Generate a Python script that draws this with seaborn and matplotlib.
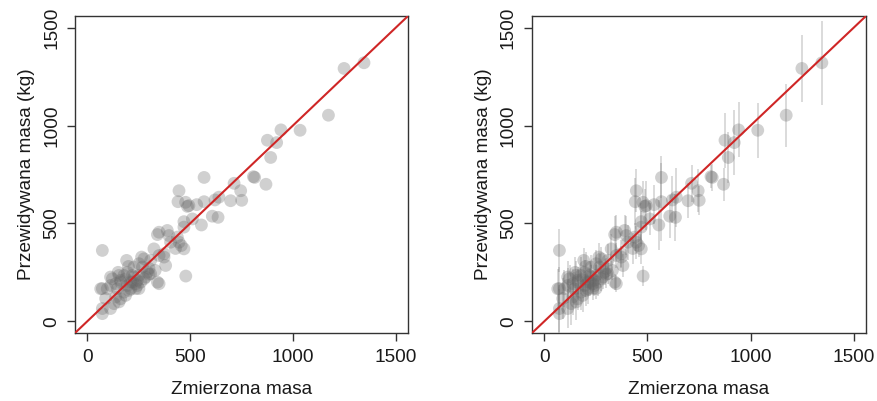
import matplotlib
matplotlib.use("Agg")
import matplotlib.pyplot as plt
import pandas as pd
import seaborn as sns

# Measured vs. predicted body mass (kg) for each animal
measured = [
    1249, 1346, 1173, 1035, 942, 876, 921, 892, 808, 814,
    869, 568, 714, 746, 697, 751, 621, 640, 608, 636,
    555, 568, 532, 487, 446, 441, 478, 470, 511, 494,
    349, 389, 397, 438, 446, 470, 405, 429, 373, 349,
    324, 308, 276, 251, 373, 381, 479, 341, 349, 264,
    191, 73, 341, 470, 457, 300, 330, 284, 308, 268,
    73, 113, 154, 162, 227, 211, 235, 89, 138, 186,
    154, 73, 73, 113, 235, 251, 203, 186, 219, 243,
    178, 146, 97, 65, 122, 138, 162, 195, 219, 251,
    276, 292, 243, 211, 178, 130, 162, 114, 260, 227,
    195, 300, 200, 150,
]
predicted = [
    1292, 1321, 1053, 976, 978, 925, 913, 837, 739, 735,
    700, 735, 705, 667, 616, 618, 620, 634, 537, 531,
    492, 611, 596, 587, 667, 611, 608, 509, 523, 591,
    455, 464, 438, 430, 404, 370, 404, 372, 345, 336,
    370, 311, 319, 294, 328, 285, 231, 200, 192, 328,
    311, 362, 443, 481, 387, 270, 260, 226, 243, 277,
    167, 226, 234, 209, 277, 201, 192, 116, 124, 132,
    99, 65, 39, 65, 167, 167, 158, 217, 234, 183,
    149, 166, 166, 166, 217, 192, 200, 183, 200, 234,
    217, 251, 209, 166, 234, 90, 115, 183, 200, 226,
    250, 240, 280, 250,
]
# Half-width of the prediction interval for each animal
half_width = [
    170, 215, 160, 140, 140, 140, 166, 130, 60, 70,
    85, 107, 95, 110, 90, 75, 120, 150, 110, 120,
    130, 200, 100, 90, 110, 120, 110, 95, 80, 125,
    90, 80, 100, 70, 85, 75, 90, 80, 70, 65,
    75, 85, 60, 70, 55, 60, 50, 40, 45, 70,
    65, 110, 95, 85, 60, 55, 50, 60, 55, 65,
    110, 80, 75, 70, 60, 70, 55, 105, 90, 85,
    95, 120, 125, 100, 60, 55, 80, 70, 75, 55,
    90, 85, 95, 100, 70, 75, 65, 60, 70, 55,
    60, 65, 50, 80, 95, 110, 60, 90, 70, 60,
    65, 70, 75, 80,
]
tick_values = [0, 500, 1000, 1500]
tick_labels = ["0", "500", "1000", "1500"]
x_label = "Zmierzona masa"
y_label = "Przewidywana masa (kg)"

df = pd.DataFrame({"measured": measured, "predicted": predicted, "half": half_width})
df["low"] = df["predicted"] - df["half"]
df["high"] = df["predicted"] + df["half"]

sns.set_theme(style="white")
plt.rcParams["font.family"] = ["Liberation Sans", "DejaVu Sans"]

W, H = 877, 401
fig = plt.figure(figsize=(W / 100, H / 100), dpi=100)
fig.patch.set_facecolor("white")
ax_left = fig.add_axes([75 / W, 1 - 333 / H, 333 / W, 317 / H])
ax_right = fig.add_axes([532 / W, 1 - 333 / H, 334 / W, 317 / H])

point_rgb = (0.4, 0.4, 0.4)
frame_col = "#333333"
text_col = "#1a1a1a"
fs = 13.7

for ax, with_bars in ((ax_left, False), (ax_right, True)):
    ax.set_facecolor("white")
    if with_bars:
        ax.vlines(df["measured"], df["low"], df["high"], colors=[point_rgb],
                  alpha=0.28, linewidth=1.2, zorder=1)
    sns.scatterplot(data=df, x="measured", y="predicted", ax=ax, s=85,
                    color=point_rgb, alpha=0.3, edgecolor="none", linewidth=0,
                    zorder=2, legend=False)
    ax.axline((0, 0), slope=1, color="#cf2626", linewidth=1.5, zorder=3)
    ax.set_xlim(-60, 1560)
    ax.set_ylim(-60, 1560)
    ax.set_xticks(tick_values)
    ax.set_xticklabels(tick_labels)
    ax.set_yticks(tick_values)
    ax.set_yticklabels(tick_labels, rotation=90, va="center")
    ax.tick_params(axis="both", which="major", direction="out", length=5.8,
                   width=1.0, color=frame_col, labelcolor=text_col,
                   labelsize=fs, bottom=True, left=True, top=False, right=False)
    ax.tick_params(axis="x", pad=6.0)
    ax.tick_params(axis="y", pad=5.0)
    for sp in ax.spines.values():
        sp.set_visible(True)
        sp.set_color(frame_col)
        sp.set_linewidth(1.0)
    ax.set_xlabel(x_label, fontsize=fs, color=text_col, labelpad=10.5)
    ax.set_ylabel(y_label, fontsize=fs, color=text_col, labelpad=6)

fig.savefig("out.png", dpi=100, facecolor="white")
